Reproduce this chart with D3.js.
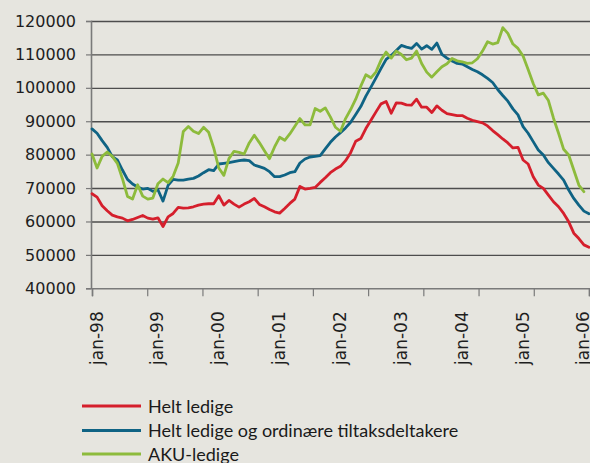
<!DOCTYPE html>
<html>
<head>
<meta charset="utf-8">
<script src="https://cdn.jsdelivr.net/npm/d3@7"></script>
<style>
  html, body { margin: 0; padding: 0; background: #e6e5df; }
  svg { display: block; }
</style>
</head>
<body>
<svg id="chart" width="590" height="463"></svg>
<script>
// ---- Data (monthly, jan-98 .. mar-06) ----
const seriesNames = ["Helt ledige", "Helt ledige og ordinære tiltaksdeltakere", "AKU-ledige"];
const seriesColors = ["#d51f2c", "#0f6384", "#8dbb3c"];

const heltLedige = [
  68300, 67300, 64700, 63200, 61900, 61400, 61000, 60200, 60600, 61200, 61800, 61000,
  60700, 61100, 58500, 61400, 62400, 64200, 64000, 64100, 64400, 64900, 65200, 65300,
  65300, 67700, 64900, 66300, 65200, 64300, 65200, 65900, 66900, 65100, 64400, 63600,
  62900, 62500, 63900, 65400, 66700, 70500, 69700, 69900, 70200, 71700, 73100, 74600,
  75700, 76500, 78200, 80600, 84000, 84800, 87800, 90300, 92800, 95200, 95900, 92400,
  95500, 95400, 94900, 94800, 96600, 94200, 94200, 92600, 94600, 93300, 92300, 92000,
  91700, 91700, 90900, 90300, 89900, 89500, 88600, 87200, 86000, 84700, 83500, 82000,
  82200, 78400, 77200, 73400, 70900, 69900, 67900, 65900, 64400, 62400, 59900, 56500,
  54900, 53000, 52300
];

const heltOgTiltak = [
  87700, 86400, 84200, 82200, 79400, 78400, 75400, 72600, 71200, 70300, 69700, 69900,
  69000, 69500, 66100, 70800, 72600, 72400, 72400, 72700, 72900, 73600, 74600, 75500,
  75200, 77200, 77400, 77600, 77900, 78200, 78400, 78200, 76900, 76400, 75900, 74900,
  73400, 73400, 73900, 74600, 74900, 77500, 78700, 79300, 79500, 79700, 81700, 83700,
  85300, 86600, 88000, 89700, 92000, 94400, 97500, 100200, 103000, 105800, 108500, 109700,
  111200, 112700, 112200, 111800, 113300, 111600, 112600, 111500, 113400, 110000, 108900, 108000,
  107300, 107100, 106300, 105500, 104800, 103900, 102800, 101600, 99500, 97700, 96000, 93700,
  91900, 88400, 86400, 83900, 81400, 79900, 77600, 75900, 74200, 72400, 69400, 66900,
  64900, 63100, 62300
];

const akuLedige = [
  80200, 76000, 79500, 80800, 79500, 77400, 72800, 67500, 66700, 71000, 67600, 66700,
  67000, 71300, 72700, 71600, 73500, 77500, 86900, 88400, 87000, 86300, 88200, 86700,
  82000, 76000, 73800, 78800, 81000, 80700, 80200, 83500, 85800, 83600, 81200, 78800,
  82300, 85200, 84300, 86200, 88500, 90800, 88900, 88900, 93800, 93000, 94000, 91300,
  88200, 87000, 90800, 93500, 96600, 100500, 103900, 103000, 104800, 108300, 110700, 108900,
  111000, 110000, 108400, 108900, 111000, 107300, 104700, 103200, 104800, 106300, 107200, 108800,
  108100, 107800, 107300, 107500, 108700, 111000, 113800, 113100, 113500, 118000, 116300, 113100,
  111800, 109500, 105500, 101300, 97900, 98400, 96200, 90900, 86400, 81600, 79900, 75400,
  70900, 68900
];

const xLabels = ["jan-98", "jan-99", "jan-00", "jan-01", "jan-02", "jan-03", "jan-04", "jan-05", "jan-06"];
const xLabelIndex = [0, 12, 24, 36, 48, 60, 72, 84, 96];
const yTicks = [40000, 50000, 60000, 70000, 80000, 90000, 100000, 110000, 120000];

// ---- Layout ----
const svg = d3.select("#chart");
const W = 590, H = 463;
const plotLeft = 91, plotTop = 21, plotBottom = 288.3;
const nPoints = 98;

svg.append("rect").attr("width", W).attr("height", H).attr("fill", "#e6e5df");

const x = d3.scaleLinear().domain([0, nPoints]).range([92, 589]);
const y = d3.scaleLinear().domain([40000, 120000]).range([plotBottom, plotTop]);

// gridlines
const grid = svg.append("g").attr("transform", `translate(${plotLeft},0)`)
  .call(d3.axisLeft(y).tickValues(yTicks.slice(1)).tickSize(-(W + 20 - plotLeft)).tickFormat(""));
grid.select(".domain").remove();
grid.selectAll(".tick line").attr("stroke", "#4d4d4d").attr("stroke-width", 1.4);

// y axis
const yAxis = svg.append("g").attr("transform", `translate(${plotLeft},0)`)
  .call(d3.axisLeft(y).tickValues(yTicks).tickSize(5).tickPadding(10).tickFormat(d3.format("d")));
yAxis.select(".domain").attr("stroke", "#7a7a7a").attr("stroke-width", 1.6);
yAxis.selectAll(".tick line").attr("stroke", "#7a7a7a").attr("stroke-width", 1.2);
yAxis.selectAll(".tick text")
  .attr("font-family", "DejaVu Sans, sans-serif")
  .attr("font-size", "16px")
  .attr("fill", "#1e1e1e");

// x axis (tick marks spaced evenly across plot)
const xTickIdx = d3.range(10).map(k => k * nPoints / 9);
const xAxis = svg.append("g").attr("transform", `translate(0,${plotBottom})`)
  .call(d3.axisBottom(x).tickValues(xTickIdx).tickSize(8).tickFormat(""));
xAxis.select(".domain").attr("stroke", "#7a7a7a").attr("stroke-width", 1.6);
xAxis.selectAll(".tick line").attr("stroke", "#7a7a7a").attr("stroke-width", 1.2);

// x labels (rotated)
svg.append("g").selectAll("text")
  .data(xLabels)
  .join("text")
  .attr("transform", (d, i) => `translate(${x(xLabelIndex[i]) + 10.5},${plotBottom + 23}) rotate(-90)`)
  .attr("text-anchor", "end")
  .attr("font-family", "DejaVu Sans, sans-serif")
  .attr("font-size", "17px")
  .attr("fill", "#1e1e1e")
  .text(d => d);

// lines
const line = d3.line().x((d, i) => x(i)).y(d => y(d)).curve(d3.curveLinear);
const allSeries = [heltLedige, heltOgTiltak, akuLedige];
svg.append("g").selectAll("path")
  .data(allSeries)
  .join("path")
  .attr("d", d => line(d))
  .attr("fill", "none")
  .attr("stroke", (d, i) => seriesColors[i])
  .attr("stroke-width", 2.8)
  .attr("stroke-linejoin", "round")
  .attr("stroke-linecap", "round");

// legend
const legendY = [406, 430.5, 454];
const lg = svg.append("g");
seriesNames.forEach((name, i) => {
  lg.append("line")
    .attr("x1", 82).attr("x2", 141)
    .attr("y1", legendY[i]).attr("y2", legendY[i])
    .attr("stroke", seriesColors[i]).attr("stroke-width", 3);
  lg.append("text")
    .attr("x", 148).attr("y", legendY[i] + 6.5)
    .attr("font-family", "Lato, sans-serif")
    .attr("font-size", "18px")
    .attr("fill", "#1a1a1a")
    .text(name);
});
</script>
</body>
</html>
